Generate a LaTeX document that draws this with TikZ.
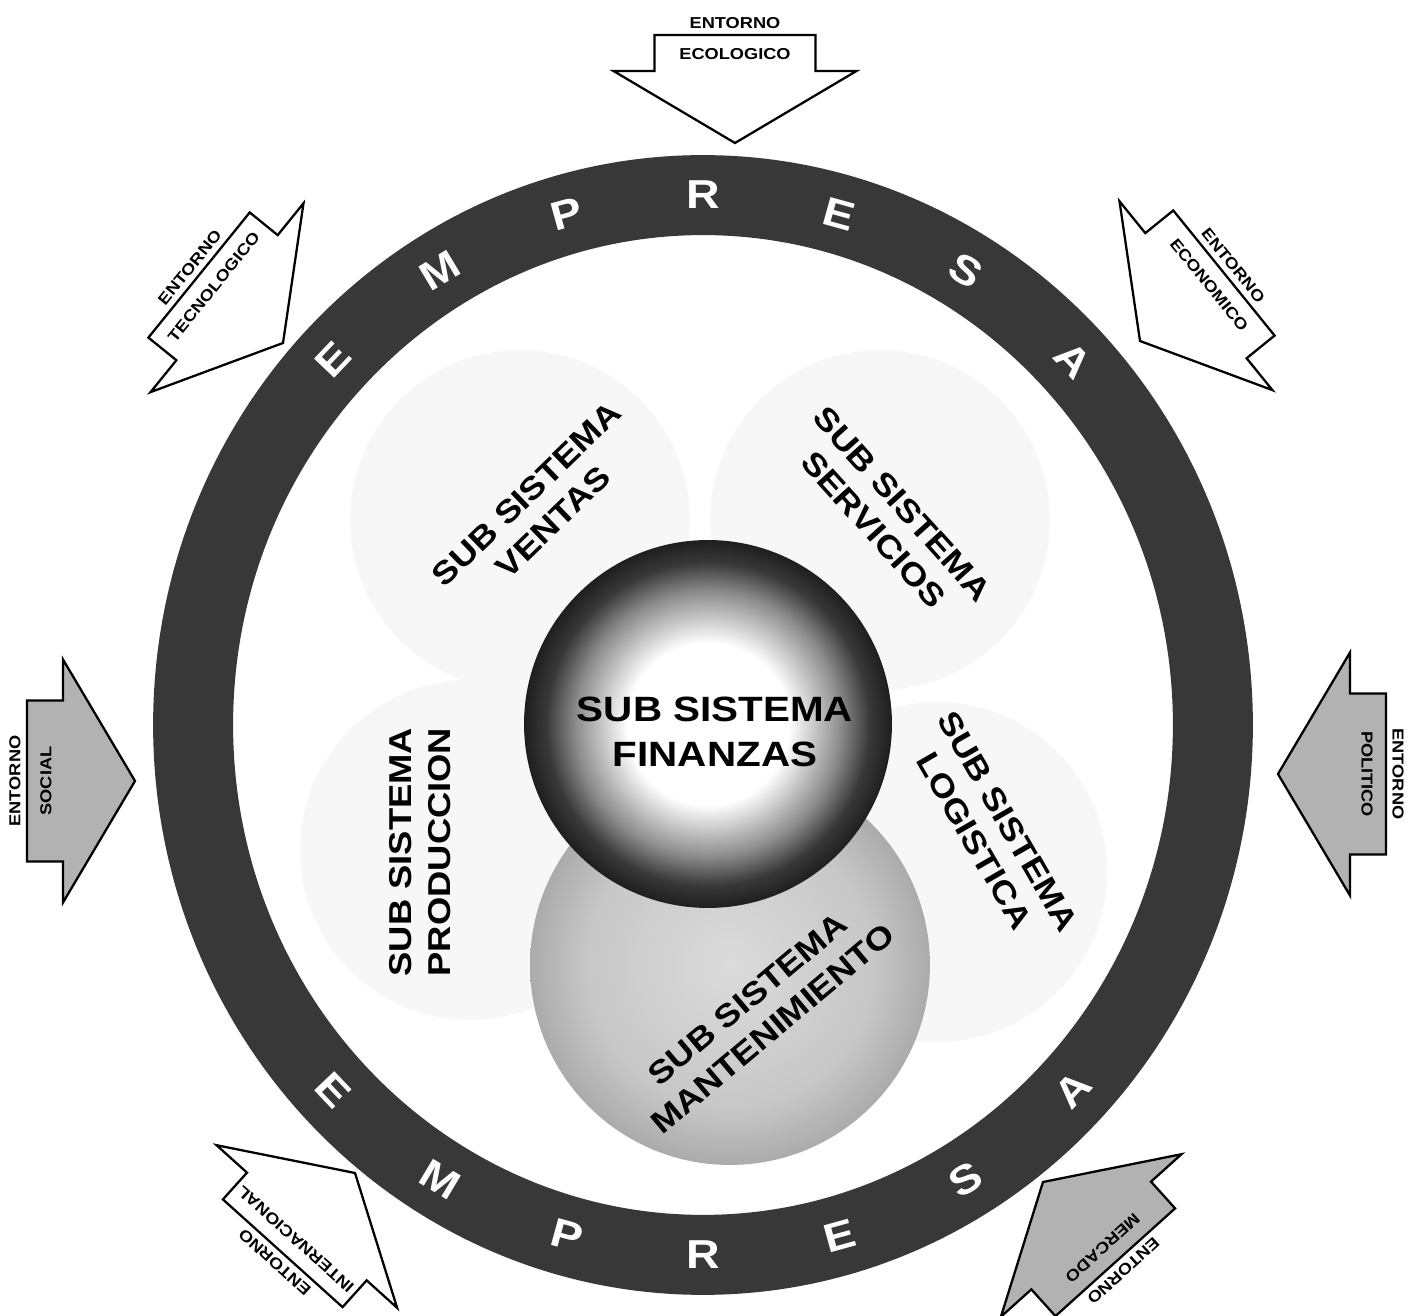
\documentclass[tikz,border=0pt]{standalone}
\usepackage{fontspec}
\newfontfamily\wide{Liberation Sans}[FakeStretch=1.15]
\pgfdeclareradialshading{finball}{\pgfpointorigin}{color(0bp)=(white); color(11bp)=(white); color(18bp)=(black!45); color(22bp)=(black!78); color(25bp)=(black!88); color(50bp)=(black!88)}
\pgfdeclareradialshading{mantball}{\pgfpointorigin}{color(0bp)=(black!14); color(18bp)=(black!22); color(25bp)=(black!33); color(50bp)=(black!33)}

\begin{document}
\begin{tikzpicture}[x=0.02cm, y=0.02cm,
    arrowbody/.style={draw=black, line width=1.3pt, line join=miter},
    envtxt/.style={font=\wide\bfseries\fontsize{9}{10}\selectfont, inner sep=0pt},
    subtxt/.style={font=\wide\bfseries\fontsize{18}{22}\selectfont, align=center, inner sep=0pt},
    ringtxt/.style={font=\wide\bfseries\fontsize{23}{23}\selectfont, text=white, inner sep=0pt},
    faint/.style={fill=black!3}
  ]
  \fill[white] (0,0) rectangle (1418,1316);
  \useasboundingbox (0,0) rectangle (1418,1316);

  % Empresa ring
  \coordinate (c) at (703,591);
  \fill[black!78, even odd rule] (c) ellipse [x radius=11cm, y radius=11.4cm]
                                 (c) ellipse [x radius=9.4cm, y radius=9.8cm];
  \foreach \a/\l [count=\i] in {136.5/E,121/M,105.5/P,90/R,74.5/E,59/S,43.5/A}
    \node[ringtxt, rotate=\a-90] (top\i) at ({703+510*cos(\a)},{591+530*sin(\a)}) {\l};
  \foreach \a/\l [count=\i] in {-136.5/E,-121/M,-105.5/P,-90/R,-74.5/E,-59/S,-43.5/A}
    \node[ringtxt, rotate=\a+90] (bot\i) at ({703+510*cos(\a)},{591+530*sin(\a)}) {\l};

  % Sub sistemas
  \fill[faint] (520,796) circle [radius=3.4cm];
  \fill[faint] (880,796) circle [radius=3.4cm];
  \fill[faint] (937,444) circle [radius=3.4cm];
  \fill[faint] (470,466) circle [radius=3.4cm];
  \shade[shading=mantball] (730,351) circle [radius=4cm];
  \shade[shading=finball] (708,592) circle [radius=3.68cm];

  \node[subtxt, font=\wide\bfseries\fontsize{20}{26}\selectfont] (finanzas) at (715,584) {SUB SISTEMA\\FINANZAS};
  \node[subtxt, rotate=44]  (ventas)        at (540,808) {SUB SISTEMA\\VENTAS};
  \node[subtxt, rotate=-48] (servicios)     at (888,799) {SUB SISTEMA\\SERVICIOS};
  \node[subtxt, rotate=-60] (logistica)     at (991,485) {SUB SISTEMA\\LOGISTICA};
  \node[subtxt, rotate=90]  (produccion)    at (420,464) {SUB SISTEMA\\PRODUCCION};
  \node[subtxt, rotate=40]  (mantenimiento) at (760,302) {SUB SISTEMA\\MANTENIMIENTO};

  % Entorno arrows
  \foreach \x/\y/\a/\f/\t [count=\i] in {735/1173/-90/white/ECOLOGICO,
      283/973/-39/white/TECNOLOGICO, 1140/975/-141/white/ECONOMICO,
      135/535/0/black!30/SOCIAL, 1278/542/180/black!30/POLITICO,
      355/143/48/white/INTERNACIONAL, 1043/134/132/black!30/MERCADO}
  {
    \begin{scope}[shift={(\x,\y)}, rotate=\a]
      \filldraw[arrowbody, fill=\f] (0,0) -- (-72,121.5) -- (-72,80.5) -- (-108,80.5)
        -- (-108,-80.5) -- (-72,-80.5) -- (-72,-121.5) -- cycle;
      \node[envtxt, rotate=\a+90] (env\i) at (-89,0) {\t};
      \node[envtxt, rotate=\a+90] (ent\i) at (-120,0) {ENTORNO};
    \end{scope}
  }
\end{tikzpicture}
\end{document}
